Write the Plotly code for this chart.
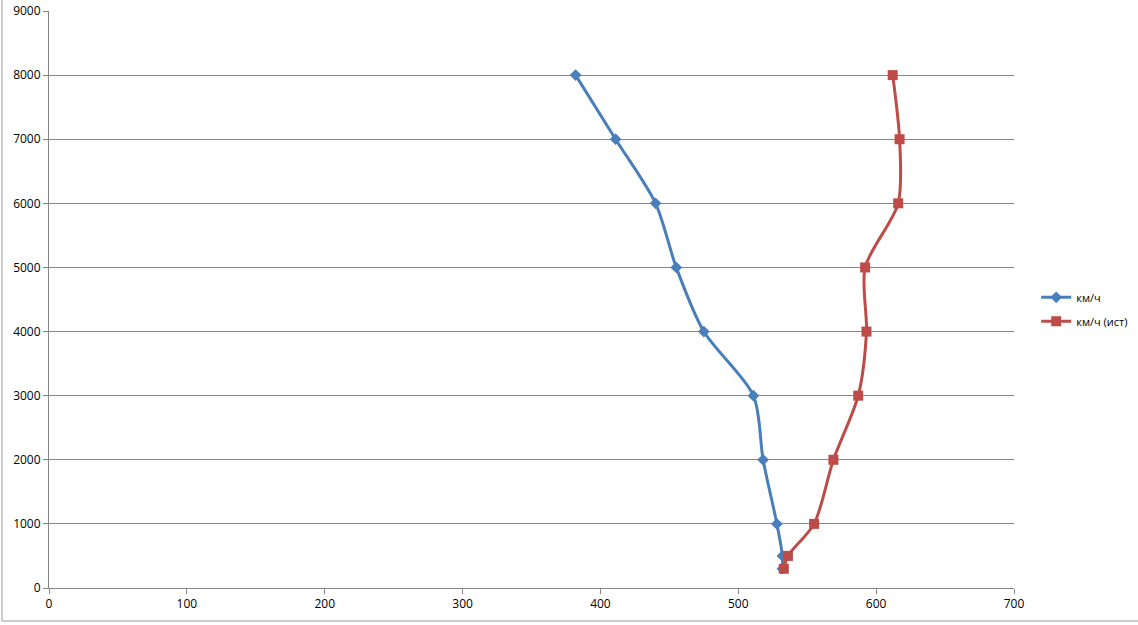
import plotly.graph_objects as go

altitude = [300, 500, 1000, 2000, 3000, 4000, 5000, 6000, 7000, 8000]
speed_kmh = [532, 532, 528, 518, 511, 475, 455, 440, 411, 382]
speed_kmh_ist = [533, 536, 555, 569, 587, 593, 592, 616, 617, 612]
series_names = ["км/ч", "км/ч (ист)"]
x_ticks = [0, 100, 200, 300, 400, 500, 600, 700]
y_ticks = [0, 1000, 2000, 3000, 4000, 5000, 6000, 7000, 8000, 9000]

blue = "#4A7EBB"
red = "#BE4B48"
font = "Open Sans, Liberation Sans, sans-serif"

fig = go.Figure()
fig.add_trace(go.Scatter(
    x=speed_kmh, y=altitude, name=series_names[0], mode="lines+markers",
    legendgroup="a",
    line=dict(color=blue, width=3, shape="spline", smoothing=0.8),
    marker=dict(symbol="diamond", size=9, color=blue),
))
fig.add_trace(go.Scatter(
    x=speed_kmh_ist, y=altitude, name=series_names[1], mode="lines+markers",
    legendgroup="b",
    line=dict(color=red, width=3, shape="spline", smoothing=0.8),
    marker=dict(symbol="square", size=10, color=red),
))

fig.update_layout(
    width=1138, height=625,
    margin=dict(l=49, r=124, t=11, b=37, autoexpand=False),
    paper_bgcolor="white", plot_bgcolor="white",
    font=dict(family=font, size=11, color="#000000"),
    showlegend=True,
    legend=dict(x=1.023, y=0.483, xanchor="left", yanchor="middle",
                font=dict(family=font, size=11, color="#000000"),
                tracegroupgap=5, itemwidth=30),
    xaxis=dict(range=[0, 700], tickvals=x_ticks, showgrid=False,
               showline=True, linecolor="#868686", linewidth=1,
               ticks="outside", ticklen=5, tickcolor="#868686",
               tickfont=dict(size=12, color="#000000"),
               zeroline=False, fixedrange=True),
    yaxis=dict(range=[0, 9000], tickvals=y_ticks, showgrid=True,
               gridcolor="#868686", gridwidth=1,
               showline=True, linecolor="#868686", linewidth=1,
               ticks="outside", ticklen=5, tickcolor="#868686",
               tickfont=dict(size=12, color="#000000"),
               zeroline=False, fixedrange=True),
)

# Excel chart frame remnants (left and bottom borders)
fig.add_shape(type="line", xref="paper", yref="paper",
              x0=-47/965, x1=-47/965, y0=-33/577, y1=1 + 11/577,
              line=dict(color="#9a9a9a", width=1))
fig.add_shape(type="line", xref="paper", yref="paper",
              x0=-47/965, x1=1 + 124/965, y0=-33/577, y1=-33/577,
              line=dict(color="#9a9a9a", width=1))

fig.write_html("out.html", config={"displayModeBar": False},
               post_script="document.body.style.margin='0';document.body.style.padding='0';")
